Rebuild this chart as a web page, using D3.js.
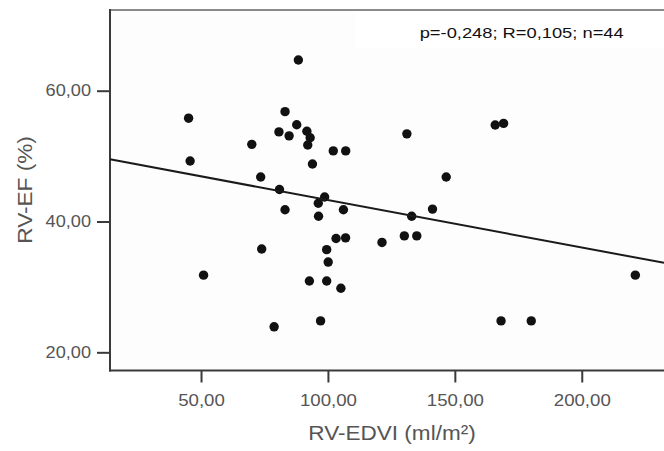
<!DOCTYPE html>
<html>
<head>
<meta charset="utf-8">
<script src="https://cdn.jsdelivr.net/npm/d3@7"></script>
<style>
  html, body { margin: 0; padding: 0; background: #fff; }
  svg { display: block; }
  text { font-family: "Liberation Sans", Arial, sans-serif; }
</style>
</head>
<body>
<svg id="chart" width="664" height="451"></svg>
<script>
// ---- data ----
const rvEdvi = [45.1, 45.7, 51.0, 70.0, 73.5, 73.9, 78.8, 80.7, 80.9, 83.1, 83.1, 84.7, 87.7, 88.35,
  91.7, 93.0, 92.05, 93.9, 92.7, 96.2, 96.3, 97.1, 98.7, 99.5, 100.1, 99.5, 102.1, 107.0, 103.2,
  106.95, 106.1, 105.1, 121.3, 130.1, 131.1, 133.0, 135.0, 141.2, 146.6, 165.9, 169.2, 168.2, 180.1, 221.1];
const rvEf = [55.8, 49.25, 31.8, 51.8, 46.8, 35.8, 23.9, 53.7, 44.9, 56.8, 41.8, 53.1, 54.8, 64.7,
  53.8, 52.8, 51.7, 48.8, 30.9, 42.8, 40.8, 24.8, 43.75, 35.7, 33.8, 30.9, 50.8, 50.8, 37.4,
  37.5, 41.8, 29.8, 36.8, 37.8, 53.4, 40.8, 37.8, 41.9, 46.8, 54.75, 55.0, 24.8, 24.8, 31.8];
const xTicks = [50, 100, 150, 200];
const yTicks = [20, 40, 60];
const fitIntercept = 50.53;
const fitSlope = -0.0725;
const xTitle = "RV-EDVI (ml/m²)";
const yTitle = "RV-EF (%)";
const statsLabel = "p=-0,248; R=0,105; n=44";

// ---- layout ----
const svg = d3.select("#chart");
const L = 110, R = 664, T = 10, B = 370.5;
const x = d3.scaleLinear().domain([14.14, 232.4]).range([L, R]);
const y = d3.scaleLinear().domain([17.22, 72.34]).range([B, T]);

const loc = d3.formatLocale({decimal: ",", thousands: ".", grouping: [3], currency: ["", ""]});
const fmt = loc.format(".2f");

function stretch(sel, k) {
  sel.each(function() {
    const w = this.getComputedTextLength();
    d3.select(this).attr("textLength", w * k).attr("lengthAdjust", "spacingAndGlyphs");
  });
}

// plot background
svg.append("rect").attr("x", L).attr("y", T).attr("width", R - L + 4).attr("height", B - T)
  .attr("fill", "#fdfdfd");
svg.append("rect").attr("x", 355).attr("y", T).attr("width", R - 355 + 4).attr("height", 38)
  .attr("fill", "#ffffff");

// top frame line
svg.append("line").attr("x1", L).attr("x2", R + 4).attr("y1", T).attr("y2", T)
  .attr("stroke", "#8a8a8a").attr("stroke-width", 2);

// axes
const gx = svg.append("g").attr("transform", `translate(0,${B})`)
  .call(d3.axisBottom(x).tickValues(xTicks).tickFormat(fmt).tickSize(12).tickSizeOuter(0).tickPadding(12));
const gy = svg.append("g").attr("transform", `translate(${L},0)`)
  .call(d3.axisLeft(y).tickValues(yTicks).tickFormat(fmt).tickSize(13).tickSizeOuter(0).tickPadding(6));

gx.select(".domain").attr("stroke", "#3a3a3a").attr("stroke-width", 2)
  .attr("d", `M${L - 1},0H${R + 4}`);
gy.select(".domain").attr("stroke", "#3a3a3a").attr("stroke-width", 2)
  .attr("d", `M0,${T - 1}V${B + 1}`);
[gx, gy].forEach(g => {
  g.selectAll(".tick line").attr("stroke", "#3a3a3a").attr("stroke-width", 2);
  g.selectAll(".tick text").attr("fill", "#555").attr("font-size", 16.5)
    .attr("font-family", "Liberation Sans, Arial, sans-serif");
});
stretch(gx.selectAll(".tick text"), 1.13);
stretch(gy.selectAll(".tick text"), 1.1);

// points
const pts = rvEdvi.map((v, i) => ({xv: v, yv: rvEf[i]}));
svg.append("g").selectAll("circle").data(pts).join("circle")
  .attr("cx", d => x(d.xv)).attr("cy", d => y(d.yv)).attr("r", 4.7)
  .attr("fill", "#111");

// fit line
const xd = x.domain();
const line = d3.line().x(d => x(d)).y(d => y(fitIntercept + fitSlope * d));
svg.append("path").datum(xd).attr("d", line)
  .attr("fill", "none").attr("stroke", "#1a1a1a").attr("stroke-width", 2);

// titles
svg.append("text").attr("x", 392).attr("y", 440).attr("text-anchor", "middle")
  .attr("font-size", 20.5).attr("fill", "#555").text(xTitle)
  .call(s => stretch(s, 1.1));
svg.append("text").attr("transform", "translate(32,190) rotate(-90)").attr("text-anchor", "middle")
  .attr("font-size", 20).attr("fill", "#555").text(yTitle)
  .call(s => stretch(s, 1.13));

// stats annotation
svg.append("text").attr("x", 521.7).attr("y", 38).attr("text-anchor", "middle")
  .attr("font-size", 15).attr("fill", "#111").text(statsLabel)
  .call(s => stretch(s, 1.22));
</script>
</body>
</html>
